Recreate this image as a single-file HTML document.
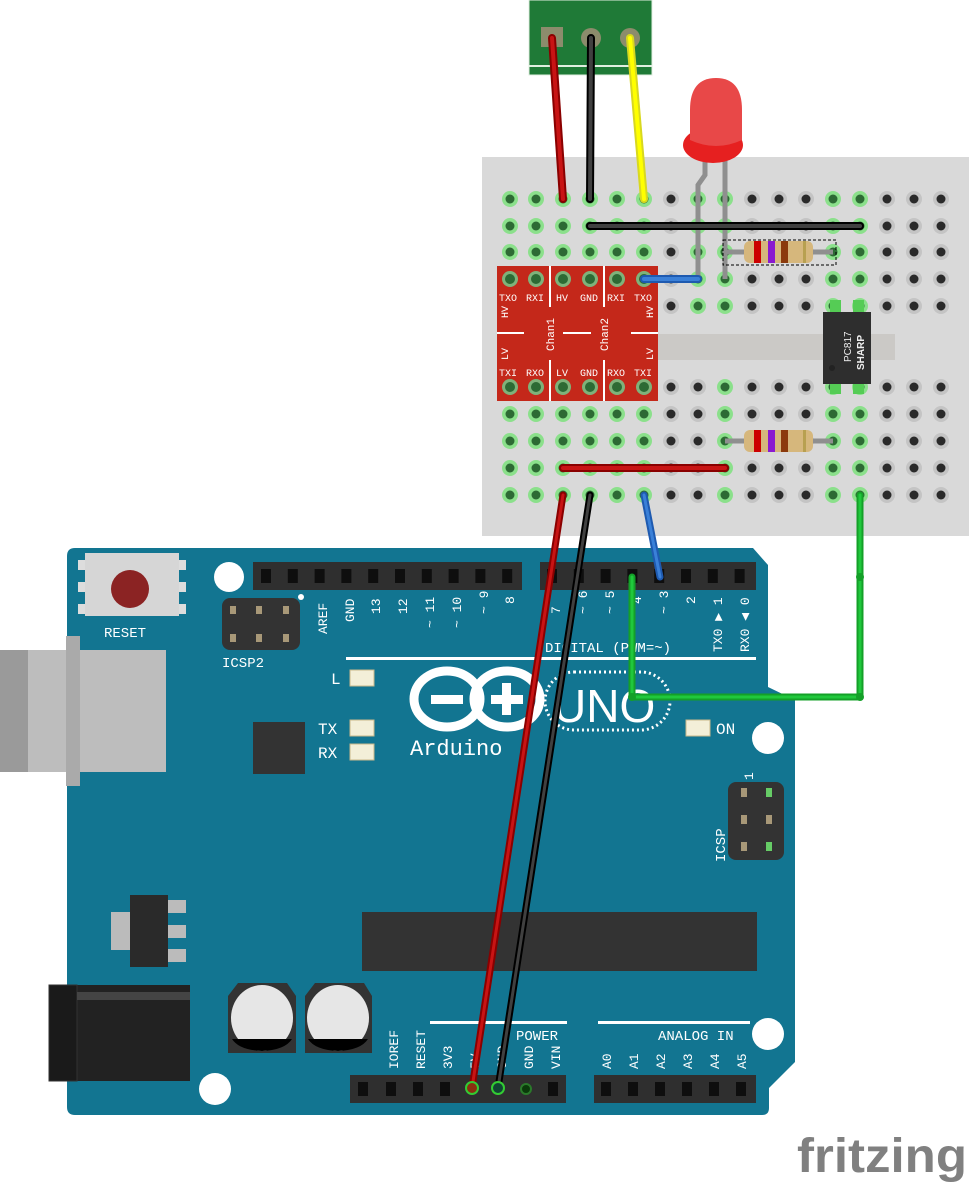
<!DOCTYPE html>
<html><head><meta charset="utf-8"><style>
html,body{margin:0;padding:0;background:#fff;width:969px;height:1185px;overflow:hidden}
svg{display:block}
text{font-family:"Liberation Mono",monospace;fill:#fff}
text.sans{font-family:"Liberation Sans",sans-serif}
</style></head><body>
<svg id="s" width="969" height="1185" viewBox="0 0 969 1185" xmlns="http://www.w3.org/2000/svg">
<path d="M75 548 L753 548 L768 565 L768 687 L795 700 L795 1062 L769 1088 L769 1108 Q769 1115 762 1115 L75 1115 Q67 1115 67 1107 L67 556 Q67 548 75 548 Z" fill="#127591"/>
<rect x="0" y="650" width="166" height="122" fill="#bdbdbd"/>
<rect x="0" y="650" width="28" height="122" fill="#9a9a9a"/>
<rect x="66" y="636" width="14" height="150" fill="#aaa"/>
<rect x="78" y="560" width="10" height="10" fill="#ddd"/><rect x="176" y="560" width="10" height="10" fill="#ddd"/>
<rect x="78" y="582" width="10" height="10" fill="#ddd"/><rect x="176" y="582" width="10" height="10" fill="#ddd"/>
<rect x="78" y="604" width="10" height="10" fill="#ddd"/><rect x="176" y="604" width="10" height="10" fill="#ddd"/>
<rect x="85" y="553" width="94" height="63" fill="#d6d6d6"/>
<ellipse cx="130" cy="589" rx="19" ry="19" fill="#8b2323"/>
<text x="104" y="637" font-size="14">RESET</text>
<rect x="222" y="598" width="78" height="52" rx="8" fill="#333"/>
<g fill="#a89878"><rect x="230" y="606" width="6" height="8"/><rect x="256" y="606" width="6" height="8"/><rect x="283" y="606" width="6" height="8"/><rect x="230" y="634" width="6" height="8"/><rect x="256" y="634" width="6" height="8"/><rect x="283" y="634" width="6" height="8"/></g>
<text x="222" y="667" font-size="14">ICSP2</text>
<circle cx="301" cy="597" r="3" fill="#fff"/>
<circle cx="229" cy="577" r="15" fill="#fff"/>
<circle cx="768" cy="738" r="16" fill="#fff"/>
<circle cx="215" cy="1089" r="16" fill="#fff"/>
<circle cx="768" cy="1034" r="16" fill="#fff"/>
<rect x="253" y="562" width="269" height="28" fill="#2f2f2f"/>
<rect x="540" y="562" width="216" height="28" fill="#2f2f2f"/>
<g id="hdr"></g>
<g font-size="13">
<text transform="translate(327,634) rotate(-90)">AREF</text>
<text transform="translate(354,622) rotate(-90)">GND</text>
<text transform="translate(380,614) rotate(-90)">13</text>
<text transform="translate(407,614) rotate(-90)">12</text>
<text transform="translate(434,628) rotate(-90)">~ 11</text>
<text transform="translate(461,628) rotate(-90)">~ 10</text>
<text transform="translate(488,614) rotate(-90)">~ 9</text>
<text transform="translate(514,604) rotate(-90)">8</text>
<text transform="translate(560,614) rotate(-90)">7</text>
<text transform="translate(587,614) rotate(-90)">~ 6</text>
<text transform="translate(614,614) rotate(-90)">~ 5</text>
<text transform="translate(641,604) rotate(-90)">4</text>
<text transform="translate(668,614) rotate(-90)">~ 3</text>
<text transform="translate(695,604) rotate(-90)">2</text>
<text transform="translate(722,652) rotate(-90)">TX0 ▶ 1</text>
<text transform="translate(749,652) rotate(-90)">RX0 ◀ 0</text>
<text x="545" y="652" font-size="14">DIGITAL (PWM=~)</text>
</g>
<rect x="346" y="657" width="410" height="3" fill="#fff"/>
<g fill="#f3efd8" stroke="#c9b88a"><rect x="350" y="670" width="24" height="16"/><rect x="350" y="720" width="24" height="16"/><rect x="350" y="744" width="24" height="16"/><rect x="686" y="720" width="24" height="16"/></g>
<g font-size="16"><text x="331" y="684">L</text><text x="318" y="734">TX</text><text x="318" y="758">RX</text><text x="716" y="734">ON</text></g>
<g fill="none" stroke="#fff" stroke-width="9">
<ellipse cx="447" cy="699" rx="33" ry="28"/><ellipse cx="507" cy="699" rx="33" ry="28"/>
</g>
<rect x="431" y="695" width="32" height="9" fill="#fff"/>
<rect x="491" y="695" width="32" height="9" fill="#fff"/><rect x="502" y="683" width="9" height="32" fill="#fff"/>
<text x="410" y="755" font-size="22">Arduino</text>
<rect x="545" y="672" width="125" height="58" rx="29" fill="none" stroke="#fff" stroke-width="3" stroke-dasharray="2 3"/>
<text x="553" y="722" font-size="46" class="sans">UNO</text>
<rect x="253" y="722" width="52" height="52" fill="#333"/>
<rect x="362" y="912" width="395" height="59" fill="#333"/>
<rect x="111" y="912" width="20" height="38" fill="#bbb"/>
<rect x="168" y="900" width="18" height="13" fill="#bbb"/><rect x="168" y="925" width="18" height="13" fill="#bbb"/><rect x="168" y="949" width="18" height="13" fill="#bbb"/>
<rect x="130" y="895" width="38" height="72" fill="#2a2a2a"/>
<rect x="728" y="782" width="56" height="78" rx="8" fill="#333"/>
<g fill="#a89878"><rect x="741" y="788" width="6" height="9"/><rect x="741" y="815" width="6" height="9"/><rect x="741" y="842" width="6" height="9"/><rect x="766" y="815" width="6" height="9"/></g>
<g fill="#6c6"><rect x="766" y="788" width="6" height="9"/><rect x="766" y="842" width="6" height="9"/></g>
<text transform="translate(725,862) rotate(-90)" font-size="14">ICSP</text>
<text transform="translate(753,780) rotate(-90)" font-size="13">1</text>
<rect x="49" y="985" width="141" height="96" fill="#222"/>
<rect x="49" y="985" width="28" height="96" fill="#1a1a1a" stroke="#333"/>
<rect x="77" y="992" width="113" height="8" fill="#444"/>
<g>
<path d="M238 983 L287 983 L296 996 L296 1053 L228 1053 L228 996 Z" fill="#333"/>
<ellipse cx="262" cy="1018" rx="31" ry="33" fill="#e6e6e6"/>
<path d="M232 1039 L292 1039 Q285 1050 262 1051 Q239 1050 232 1039Z" fill="#000"/>
<path d="M315 983 L364 983 L372 996 L372 1053 L305 1053 L305 996 Z" fill="#333"/>
<ellipse cx="338" cy="1018" rx="31" ry="33" fill="#e6e6e6"/>
<path d="M308 1039 L368 1039 Q361 1050 338 1051 Q315 1050 308 1039Z" fill="#000"/>
</g>
<rect x="430" y="1021" width="137" height="3" fill="#fff"/>
<rect x="598" y="1021" width="152" height="3" fill="#fff"/>
<text x="516" y="1040" font-size="14">POWER</text>
<text x="658" y="1040" font-size="14">ANALOG IN</text>
<rect x="350" y="1075" width="216" height="28" fill="#2f2f2f"/>
<rect x="594" y="1075" width="162" height="28" fill="#2f2f2f"/>
<g font-size="13">
<text transform="translate(398,1069) rotate(-90)">IOREF</text>
<text transform="translate(425,1069) rotate(-90)">RESET</text>
<text transform="translate(452,1069) rotate(-90)">3V3</text>
<text transform="translate(479,1069) rotate(-90)">5V</text>
<text transform="translate(506,1069) rotate(-90)">GND</text>
<text transform="translate(533,1069) rotate(-90)">GND</text>
<text transform="translate(560,1069) rotate(-90)">VIN</text>
<text transform="translate(611,1069) rotate(-90)">A0</text>
<text transform="translate(638,1069) rotate(-90)">A1</text>
<text transform="translate(665,1069) rotate(-90)">A2</text>
<text transform="translate(692,1069) rotate(-90)">A3</text>
<text transform="translate(719,1069) rotate(-90)">A4</text>
<text transform="translate(746,1069) rotate(-90)">A5</text>
</g>
<g fill="#0e0e0e">
<rect x="358" y="1082" width="10" height="14"/><rect x="386" y="1082" width="10" height="14"/><rect x="413" y="1082" width="10" height="14"/><rect x="440" y="1082" width="10" height="14"/><rect x="548" y="1082" width="10" height="14"/>
<rect x="601" y="1082" width="10" height="14"/><rect x="628" y="1082" width="10" height="14"/><rect x="655" y="1082" width="10" height="14"/><rect x="682" y="1082" width="10" height="14"/><rect x="709" y="1082" width="10" height="14"/><rect x="736" y="1082" width="10" height="14"/>
</g>
<circle cx="526" cy="1089" r="5" fill="#0a3a0a" stroke="#2a7a2a" stroke-width="2"/>
<rect x="482" y="157" width="487" height="379" fill="#d9d9d9"/>
<rect x="658" y="334" width="237" height="26" fill="#cbc9c6"/>
<g id="holes"></g>
<rect x="497" y="266" width="161" height="135" fill="#c4281a"/>
<g stroke="#fff" stroke-width="2"><line x1="550" y1="266" x2="550" y2="307"/><line x1="604" y1="266" x2="604" y2="307"/><line x1="550" y1="360" x2="550" y2="401"/><line x1="604" y1="360" x2="604" y2="401"/><line x1="497" y1="333" x2="524" y2="333"/><line x1="563" y1="333" x2="591" y2="333"/><line x1="631" y1="333" x2="658" y2="333"/></g>
<g id="cpins"></g>
<g font-size="10">
<text x="499" y="301">TXO</text><text x="526" y="301">RXI</text><text x="556" y="301">HV</text><text x="580" y="301">GND</text><text x="607" y="301">RXI</text><text x="634" y="301">TXO</text>
<text x="499" y="376">TXI</text><text x="526" y="376">RXO</text><text x="556" y="376">LV</text><text x="580" y="376">GND</text><text x="607" y="376">RXO</text><text x="634" y="376">TXI</text>
<text transform="translate(508,318) rotate(-90)">HV</text>
<text transform="translate(508,360) rotate(-90)">LV</text>
<text transform="translate(653,318) rotate(-90)">HV</text>
<text transform="translate(653,360) rotate(-90)">LV</text>
<text transform="translate(554,351) rotate(-90)" font-size="11">Chan1</text>
<text transform="translate(608,351) rotate(-90)" font-size="11">Chan2</text>
</g>
<rect x="830" y="300" width="11" height="16" fill="#5c5"/><rect x="853" y="300" width="11" height="16" fill="#5c5"/>
<rect x="830" y="378" width="11" height="16" fill="#5c5"/><rect x="853" y="378" width="11" height="16" fill="#5c5"/>
<rect x="823" y="312" width="48" height="72" fill="#2e2e2e"/>
<text transform="translate(851,362) rotate(-90)" font-size="10" class="sans" style="fill:#eee">PC817</text>
<text transform="translate(864,370) rotate(-90)" font-size="10" font-weight="bold" class="sans" style="fill:#eee">SHARP</text>
<circle cx="832" cy="368" r="3" fill="#222"/>
<path d="M705 158 L705 175 L698 185 L698 279" fill="none" stroke="#8f8f8f" stroke-width="5"/>
<path d="M725 158 L725 279" fill="none" stroke="#8f8f8f" stroke-width="5"/>
<g>
<line x1="725" y1="252" x2="833" y2="252" stroke="#8f8f8f" stroke-width="5"/>
<rect x="744" y="241" width="69" height="22" rx="6" fill="#d6b77c"/>
<rect x="754" y="241" width="7" height="22" fill="#c00"/><rect x="768" y="241" width="7" height="22" fill="#8a1ad0"/><rect x="781" y="241" width="7" height="22" fill="#8b3a0c"/><rect x="803" y="241" width="3" height="22" fill="#b8a050"/>
<rect x="723" y="240" width="113" height="25" fill="none" stroke="#000" stroke-dasharray="3 2"/>
<line x1="725" y1="441" x2="833" y2="441" stroke="#8f8f8f" stroke-width="5"/>
<rect x="744" y="430" width="69" height="22" rx="6" fill="#d6b77c"/>
<rect x="754" y="430" width="7" height="22" fill="#c00"/><rect x="768" y="430" width="7" height="22" fill="#8a1ad0"/><rect x="781" y="430" width="7" height="22" fill="#8b3a0c"/><rect x="803" y="430" width="3" height="22" fill="#b8a050"/>
</g>
<rect x="529" y="0" width="123" height="75" fill="#1f7a37" stroke="#e0efe0"/>
<rect x="529" y="65" width="123" height="2" fill="#e0efe0"/>
<rect x="541" y="27" width="22" height="20" fill="#8c8c6c"/>
<circle cx="591" cy="38" r="10" fill="#8c8c6c"/><circle cx="630" cy="38" r="10" fill="#8c8c6c"/>
<ellipse cx="713" cy="145" rx="30" ry="18" fill="#e62020"/>
<path d="M690 140 L690 110 Q690 78 716 78 Q742 78 742 110 L742 140 Q716 152 690 140 Z" fill="#e84848"/>
<g fill="none" stroke-linecap="round">
<line x1="552" y1="38" x2="563" y2="199" stroke="#8a0000" stroke-width="8"/><line x1="552" y1="38" x2="563" y2="199" stroke="#c81414" stroke-width="4"/>
<line x1="591" y1="38" x2="590" y2="199" stroke="#000" stroke-width="8"/><line x1="591" y1="38" x2="590" y2="199" stroke="#404040" stroke-width="4"/>
<line x1="630" y1="38" x2="644" y2="199" stroke="#d8d820" stroke-width="8"/><line x1="630" y1="38" x2="644" y2="199" stroke="#ffff00" stroke-width="4"/>
<line x1="590" y1="226" x2="860" y2="226" stroke="#000" stroke-width="8"/><line x1="590" y1="226" x2="860" y2="226" stroke="#404040" stroke-width="4"/>
<line x1="644" y1="279" x2="698" y2="279" stroke="#1e5ab0" stroke-width="8"/><line x1="644" y1="279" x2="698" y2="279" stroke="#3a80d8" stroke-width="4"/>
<line x1="563" y1="468" x2="725" y2="468" stroke="#8a0000" stroke-width="8"/><line x1="563" y1="468" x2="725" y2="468" stroke="#c81414" stroke-width="4"/>
<line x1="563" y1="495" x2="472" y2="1088" stroke="#8a0000" stroke-width="7"/><line x1="563" y1="495" x2="472" y2="1088" stroke="#c81414" stroke-width="3"/>
<line x1="590" y1="495" x2="498" y2="1088" stroke="#000" stroke-width="7"/><line x1="590" y1="495" x2="498" y2="1088" stroke="#404040" stroke-width="3"/>
<line x1="644" y1="495" x2="660" y2="577" stroke="#1e5ab0" stroke-width="7"/><line x1="644" y1="495" x2="660" y2="577" stroke="#3a80d8" stroke-width="3"/>
<path d="M860 495 L860 697 L632 697 L632 577" stroke="#14a028" stroke-width="7" stroke-linejoin="round"/>
<path d="M860 495 L860 697 L632 697 L632 577" stroke="#20c83c" stroke-width="3" stroke-linejoin="round"/>
</g>
<circle cx="860" cy="577" r="4" fill="#14a028"/><circle cx="632" cy="697" r="4" fill="#14a028"/><circle cx="860" cy="697" r="4" fill="#14a028"/>
<circle cx="472" cy="1088" r="6" fill="#8a3010" stroke="#3c3" stroke-width="2"/>
<circle cx="498" cy="1088" r="6" fill="#143" stroke="#3c3" stroke-width="2"/>
<text x="797" y="1172" font-size="48" textLength="170" lengthAdjust="spacingAndGlyphs" class="sans" style="fill:#808080;font-family:'Liberation Sans',sans-serif;font-weight:bold">fritzing</text>
</svg>
<script>
var NS="http://www.w3.org/2000/svg";
function el(p,t,a){var e=document.createElementNS(NS,t);for(var k in a)e.setAttribute(k,a[k]);p.appendChild(e);return e;}
var H=document.getElementById("holes");
var cols=[510,536,563,590,617,644,671,698,725,752,779,806,833,860,887,914,941];
var rows=[199,226,252,279,306,387,414,441,468,495];
for(var r=0;r<rows.length;r++)for(var c=0;c<cols.length;c++){
 var g=(c<=5)||(c==12||c==13)||((c==7||c==8)&&r<5)||(c==8&&r>=5);
 if(r==0&&c==6)g=false;
 el(H,"circle",{cx:cols[c],cy:rows[r],r:8,fill:g?"#8be08b":"#c4c4c4"});
 el(H,"circle",{cx:cols[c],cy:rows[r],r:4.5,fill:g?"#2d6a34":"#2a2a2a"});
}
var C=document.getElementById("cpins");
for(var c=0;c<6;c++){[279,387].forEach(function(y){el(C,"circle",{cx:cols[c],cy:y,r:8,fill:"#7fb27a"});el(C,"circle",{cx:cols[c],cy:y,r:5,fill:"#2d6a34"});});}
var D=document.getElementById("hdr");
function pins(x0,n,y){for(var i=0;i<n;i++){el(D,"rect",{x:x0+i*26.8-5,y:y-7,width:10,height:14,fill:"#0e0e0e"});}}
pins(266,10,576);pins(552,8,576);
</script>
</body></html>
